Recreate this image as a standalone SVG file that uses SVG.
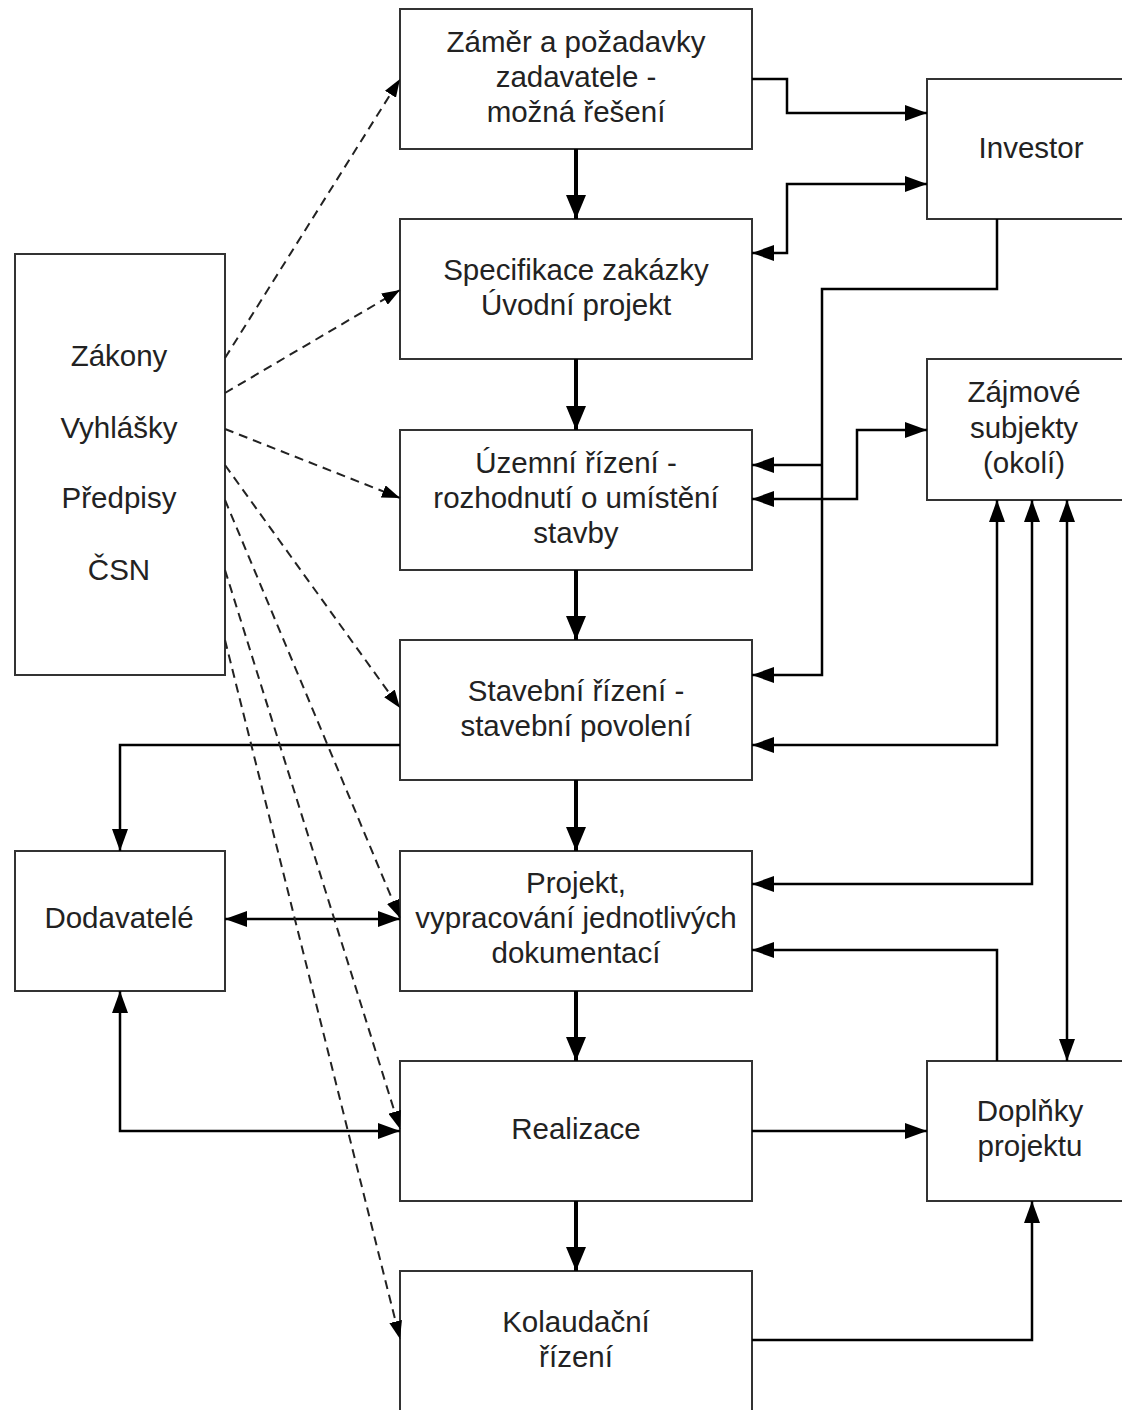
<svg xmlns="http://www.w3.org/2000/svg" width="1122" height="1410" viewBox="0 0 1122 1410">
<style>
.box{fill:#fff;stroke:#333;stroke-width:2}
.t{font-family:"Liberation Sans",Arial,sans-serif;font-size:29.5px;fill:#222;text-anchor:middle}
.c{fill:none;stroke:#000;stroke-width:2.5}
.m{fill:none;stroke:#000;stroke-width:4}
.d{fill:none;stroke:#222;stroke-width:2;stroke-dasharray:9,6}
</style>
<defs>
<marker id="a" viewBox="0 0 22 16" refX="22" refY="8" markerWidth="22" markerHeight="16" markerUnits="userSpaceOnUse" orient="auto-start-reverse"><path d="M0,0 L22,8 L0,16 z" fill="#000"/></marker>
<marker id="b" viewBox="0 0 24 20" refX="24" refY="10" markerWidth="24" markerHeight="20" markerUnits="userSpaceOnUse" orient="auto"><path d="M0,0 L24,10 L0,20 z" fill="#000"/></marker>
<marker id="s" viewBox="0 0 18 13" refX="18" refY="6.5" markerWidth="18" markerHeight="13" markerUnits="userSpaceOnUse" orient="auto"><path d="M0,0 L18,6.5 L0,13 z" fill="#000"/></marker>
</defs>
<rect width="1122" height="1410" fill="#fff"/>
<g id="n-zamer"><rect class="box" x="400" y="9" width="352" height="140"/><text class="t" x="576" y="52">Záměr a požadavky</text><text class="t" x="576" y="87">zadavatele -</text><text class="t" x="576" y="122">možná řešení</text></g>
<g id="n-specifikace"><rect class="box" x="400" y="219" width="352" height="140"/><text class="t" x="576" y="280">Specifikace zakázky</text><text class="t" x="576" y="315">Úvodní projekt</text></g>
<g id="n-uzemni"><rect class="box" x="400" y="430" width="352" height="140"/><text class="t" x="576" y="473">Územní řízení -</text><text class="t" x="576" y="508">rozhodnutí o umístění</text><text class="t" x="576" y="543">stavby</text></g>
<g id="n-stavebni"><rect class="box" x="400" y="640" width="352" height="140"/><text class="t" x="576" y="701">Stavební řízení -</text><text class="t" x="576" y="736">stavební povolení</text></g>
<g id="n-projekt"><rect class="box" x="400" y="851" width="352" height="140"/><text class="t" x="576" y="893">Projekt,</text><text class="t" x="576" y="928">vypracování jednotlivých</text><text class="t" x="576" y="963">dokumentací</text></g>
<g id="n-realizace"><rect class="box" x="400" y="1061" width="352" height="140"/><text class="t" x="576" y="1139">Realizace</text></g>
<g id="n-kolaudacni"><rect class="box" x="400" y="1271" width="352" height="142"/><text class="t" x="576" y="1332">Kolaudační</text><text class="t" x="576" y="1367">řízení</text></g>
<g id="n-investor"><rect class="box" x="927" y="79" width="210" height="140"/><text class="t" x="1031" y="158">Investor</text></g>
<g id="n-zajmove"><rect class="box" x="927" y="359" width="210" height="141"/><text class="t" x="1024" y="402">Zájmové</text><text class="t" x="1024" y="438">subjekty</text><text class="t" x="1024" y="473">(okolí)</text></g>
<g id="n-doplnky"><rect class="box" x="927" y="1061" width="210" height="140"/><text class="t" x="1030" y="1121">Doplňky</text><text class="t" x="1030" y="1156">projektu</text></g>
<g id="n-zakony"><rect class="box" x="15" y="254" width="210" height="421"/><text class="t" x="119" y="366">Zákony</text><text class="t" x="119" y="438">Vyhlášky</text><text class="t" x="119" y="508">Předpisy</text><text class="t" x="119" y="580">ČSN</text></g>
<g id="n-dodavatele"><rect class="box" x="15" y="851" width="210" height="140"/><text class="t" x="119" y="928">Dodavatelé</text></g>
<g id="connectors">
<path class="m" d="M576,149 V219" marker-end="url(#b)"/>
<path class="m" d="M576,359 V430" marker-end="url(#b)"/>
<path class="m" d="M576,570 V640" marker-end="url(#b)"/>
<path class="m" d="M576,780 V851" marker-end="url(#b)"/>
<path class="m" d="M576,991 V1061" marker-end="url(#b)"/>
<path class="m" d="M576,1201 V1271" marker-end="url(#b)"/>
<path class="c" d="M752,79 H787 V113 H927" marker-end="url(#a)"/>
<path class="c" d="M927,184 H787 V253 H752" marker-start="url(#a)" marker-end="url(#a)"/>
<path class="c" d="M997,219 V289 H822 V675 H752" marker-end="url(#a)"/>
<path class="c" d="M822,465 H752" marker-end="url(#a)"/>
<path class="c" d="M927,430 H857 V499 H752" marker-start="url(#a)" marker-end="url(#a)"/>
<path class="c" d="M997,500 V745 H752" marker-start="url(#a)" marker-end="url(#a)"/>
<path class="c" d="M1032,500 V884 H752" marker-start="url(#a)" marker-end="url(#a)"/>
<path class="c" d="M1067,500 V1061" marker-start="url(#a)" marker-end="url(#a)"/>
<path class="c" d="M997,1061 V950 H752" marker-end="url(#a)"/>
<path class="c" d="M752,1131 H927" marker-end="url(#a)"/>
<path class="c" d="M752,1340 H1032 V1201" marker-end="url(#a)"/>
<path class="c" d="M400,745 H120 V851" marker-end="url(#a)"/>
<path class="c" d="M225,919 H400" marker-start="url(#a)" marker-end="url(#a)"/>
<path class="c" d="M120,991 V1131 H400" marker-start="url(#a)" marker-end="url(#a)"/>
<path class="d" d="M225,358 L400,79" marker-end="url(#s)"/>
<path class="d" d="M225,393 L400,290" marker-end="url(#s)"/>
<path class="d" d="M225,429 L400,498" marker-end="url(#s)"/>
<path class="d" d="M225,465 L400,708" marker-end="url(#s)"/>
<path class="d" d="M225,500 L400,918" marker-end="url(#s)"/>
<path class="d" d="M225,570 L400,1129" marker-end="url(#s)"/>
<path class="d" d="M225,640 L400,1339" marker-end="url(#s)"/>
</g>
</svg>
